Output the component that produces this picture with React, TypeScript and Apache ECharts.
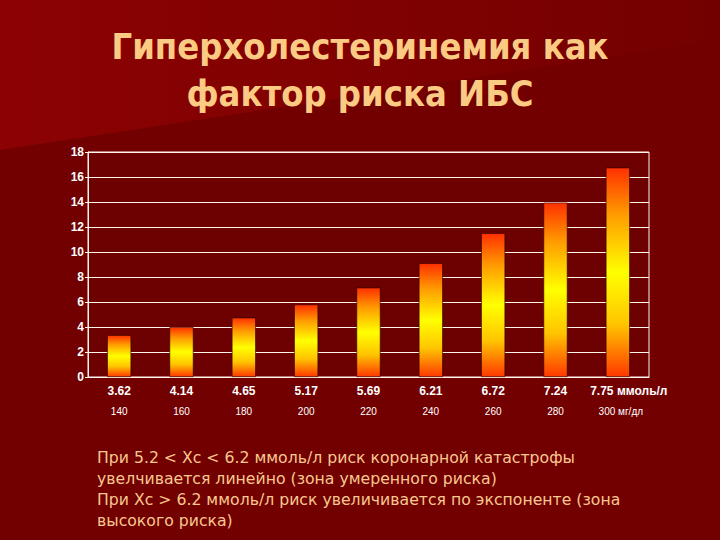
import React, { useEffect, useRef } from "react";
import * as echarts from "echarts";

const riskValues = [3.35, 4.0, 4.75, 5.8, 7.15, 9.1, 11.5, 13.95, 16.75];
const mmolLabels = ["3.62", "4.14", "4.65", "5.17", "5.69", "6.21", "6.72", "7.24", "7.75 ммоль/л"];
const mgdlLabels = ["140", "160", "180", "200", "220", "240", "260", "280", "300 мг/дл"];
const yMin = 0;
const yMax = 18;
const yInterval = 2;
const titleLines = ["Гиперхолестеринемия как", "фактор риска ИБС"];
const noteLines = [
  "При 5.2 < Хс < 6.2 ммоль/л риск коронарной катастрофы",
  "увелчивается линейно (зона умеренного риска)",
  "При Хс > 6.2 ммоль/л риск увеличивается по экспоненте (зона",
  "высокого риска)",
];

export default function App() {
  const ref = useRef<HTMLDivElement>(null);
  useEffect(() => {
    const chart = echarts.init(ref.current!, null, { renderer: "svg" });
    const barGrad = new echarts.graphic.LinearGradient(0, 0, 0, 1, [
      { offset: 0, color: "#FF3000" },
      { offset: 0.22, color: "#FF9A00" },
      { offset: 0.5, color: "#FFFF00" },
      { offset: 0.75, color: "#FFC400" },
      { offset: 1, color: "#FF3800" },
    ]);
    const titleFont = "bold 36px 'DejaVu Sans Condensed', 'DejaVu Sans', sans-serif";
    const noteFont = "15.7px 'DejaVu Sans', sans-serif";
    const lastIdx = mmolLabels.length - 1;
    chart.setOption({
      animation: false,
      backgroundColor: "#720000",
      graphic: [
        {
          type: "polygon",
          z: -100,
          silent: true,
          shape: { points: [[0, 0], [720, 0], [720, 40], [0, 150]] },
          style: {
            fill: new echarts.graphic.LinearGradient(0, 0, 1, 0, [
              { offset: 0, color: "#8C0202" },
              { offset: 0.55, color: "#7F0101" },
              { offset: 1, color: "#730000" },
            ]),
          },
        },
        {
          type: "text",
          z: 10,
          style: {
            text: titleLines[0],
            x: 360,
            y: 46,
            fill: "#FBCB84",
            font: titleFont,
            textAlign: "center",
            textVerticalAlign: "middle",
            align: "center",
            verticalAlign: "middle",
          },
        },
        {
          type: "text",
          z: 10,
          style: {
            text: titleLines[1],
            x: 360,
            y: 93,
            fill: "#FBCB84",
            font: titleFont,
            textAlign: "center",
            textVerticalAlign: "middle",
            align: "center",
            verticalAlign: "middle",
          },
        },
        {
          type: "text",
          z: 10,
          style: {
            text: noteLines.join("\n"),
            x: 97,
            y: 447,
            fill: "#F8C890",
            font: noteFont,
            lineHeight: 21,
            textAlign: "left",
            textVerticalAlign: "top",
            align: "left",
            verticalAlign: "top",
          },
        },
      ],
      grid: {
        left: 88,
        top: 152,
        width: 561,
        height: 225,
        show: true,
        backgroundColor: "#6D0000",
        borderColor: "#FFF4EA",
        borderWidth: 1,
      },
      xAxis: {
        type: "category",
        data: mmolLabels,
        axisLine: { show: true, lineStyle: { color: "#FFF4EA", width: 1 } },
        axisTick: { show: false },
        axisLabel: {
          interval: 0,
          margin: 4,
          formatter: (value: string, index: number) =>
            index === lastIdx
              ? `{c|${value}}\n{d|${mgdlLabels[index]}}`
              : `{a|${value}}\n{b|${mgdlLabels[index]}}`,
          rich: {
            a: { fontFamily: "Arial, 'Liberation Sans', sans-serif", fontWeight: "bold", fontSize: 12, color: "#FFFFFF", lineHeight: 20 },
            b: { fontFamily: "Arial, 'Liberation Sans', sans-serif", fontSize: 10, color: "#FFFFFF", lineHeight: 20 },
            c: { fontFamily: "Arial, 'Liberation Sans', sans-serif", fontWeight: "bold", fontSize: 12, color: "#FFFFFF", lineHeight: 20, padding: [0, 0, 0, 22] },
            d: { fontFamily: "Arial, 'Liberation Sans', sans-serif", fontSize: 10, color: "#FFFFFF", lineHeight: 20, padding: [0, 0, 0, 6] },
          },
        },
      },
      yAxis: {
        type: "value",
        min: yMin,
        max: yMax,
        interval: yInterval,
        axisLine: { show: true, lineStyle: { color: "#FFF4EA", width: 1 } },
        axisTick: { show: true, length: 3, lineStyle: { color: "#FFF4EA" } },
        axisLabel: {
          margin: 4,
          fontFamily: "Arial, 'Liberation Sans', sans-serif",
          fontWeight: "bold",
          fontSize: 12,
          color: "#FFFFFF",
        },
        splitLine: { show: true, lineStyle: { color: "#FFF4EA", width: 1 } },
      },
      series: [
        {
          type: "bar",
          data: riskValues,
          barWidth: 24,
          itemStyle: {
            color: barGrad,
            borderColor: "#2A0000",
            borderWidth: 0.6,
          },
        },
      ],
    });
    return () => chart.dispose();
  }, []);
  return <div ref={ref} style={{ position: "fixed", left: 0, top: 0, width: 720, height: 540 }} />;
}
